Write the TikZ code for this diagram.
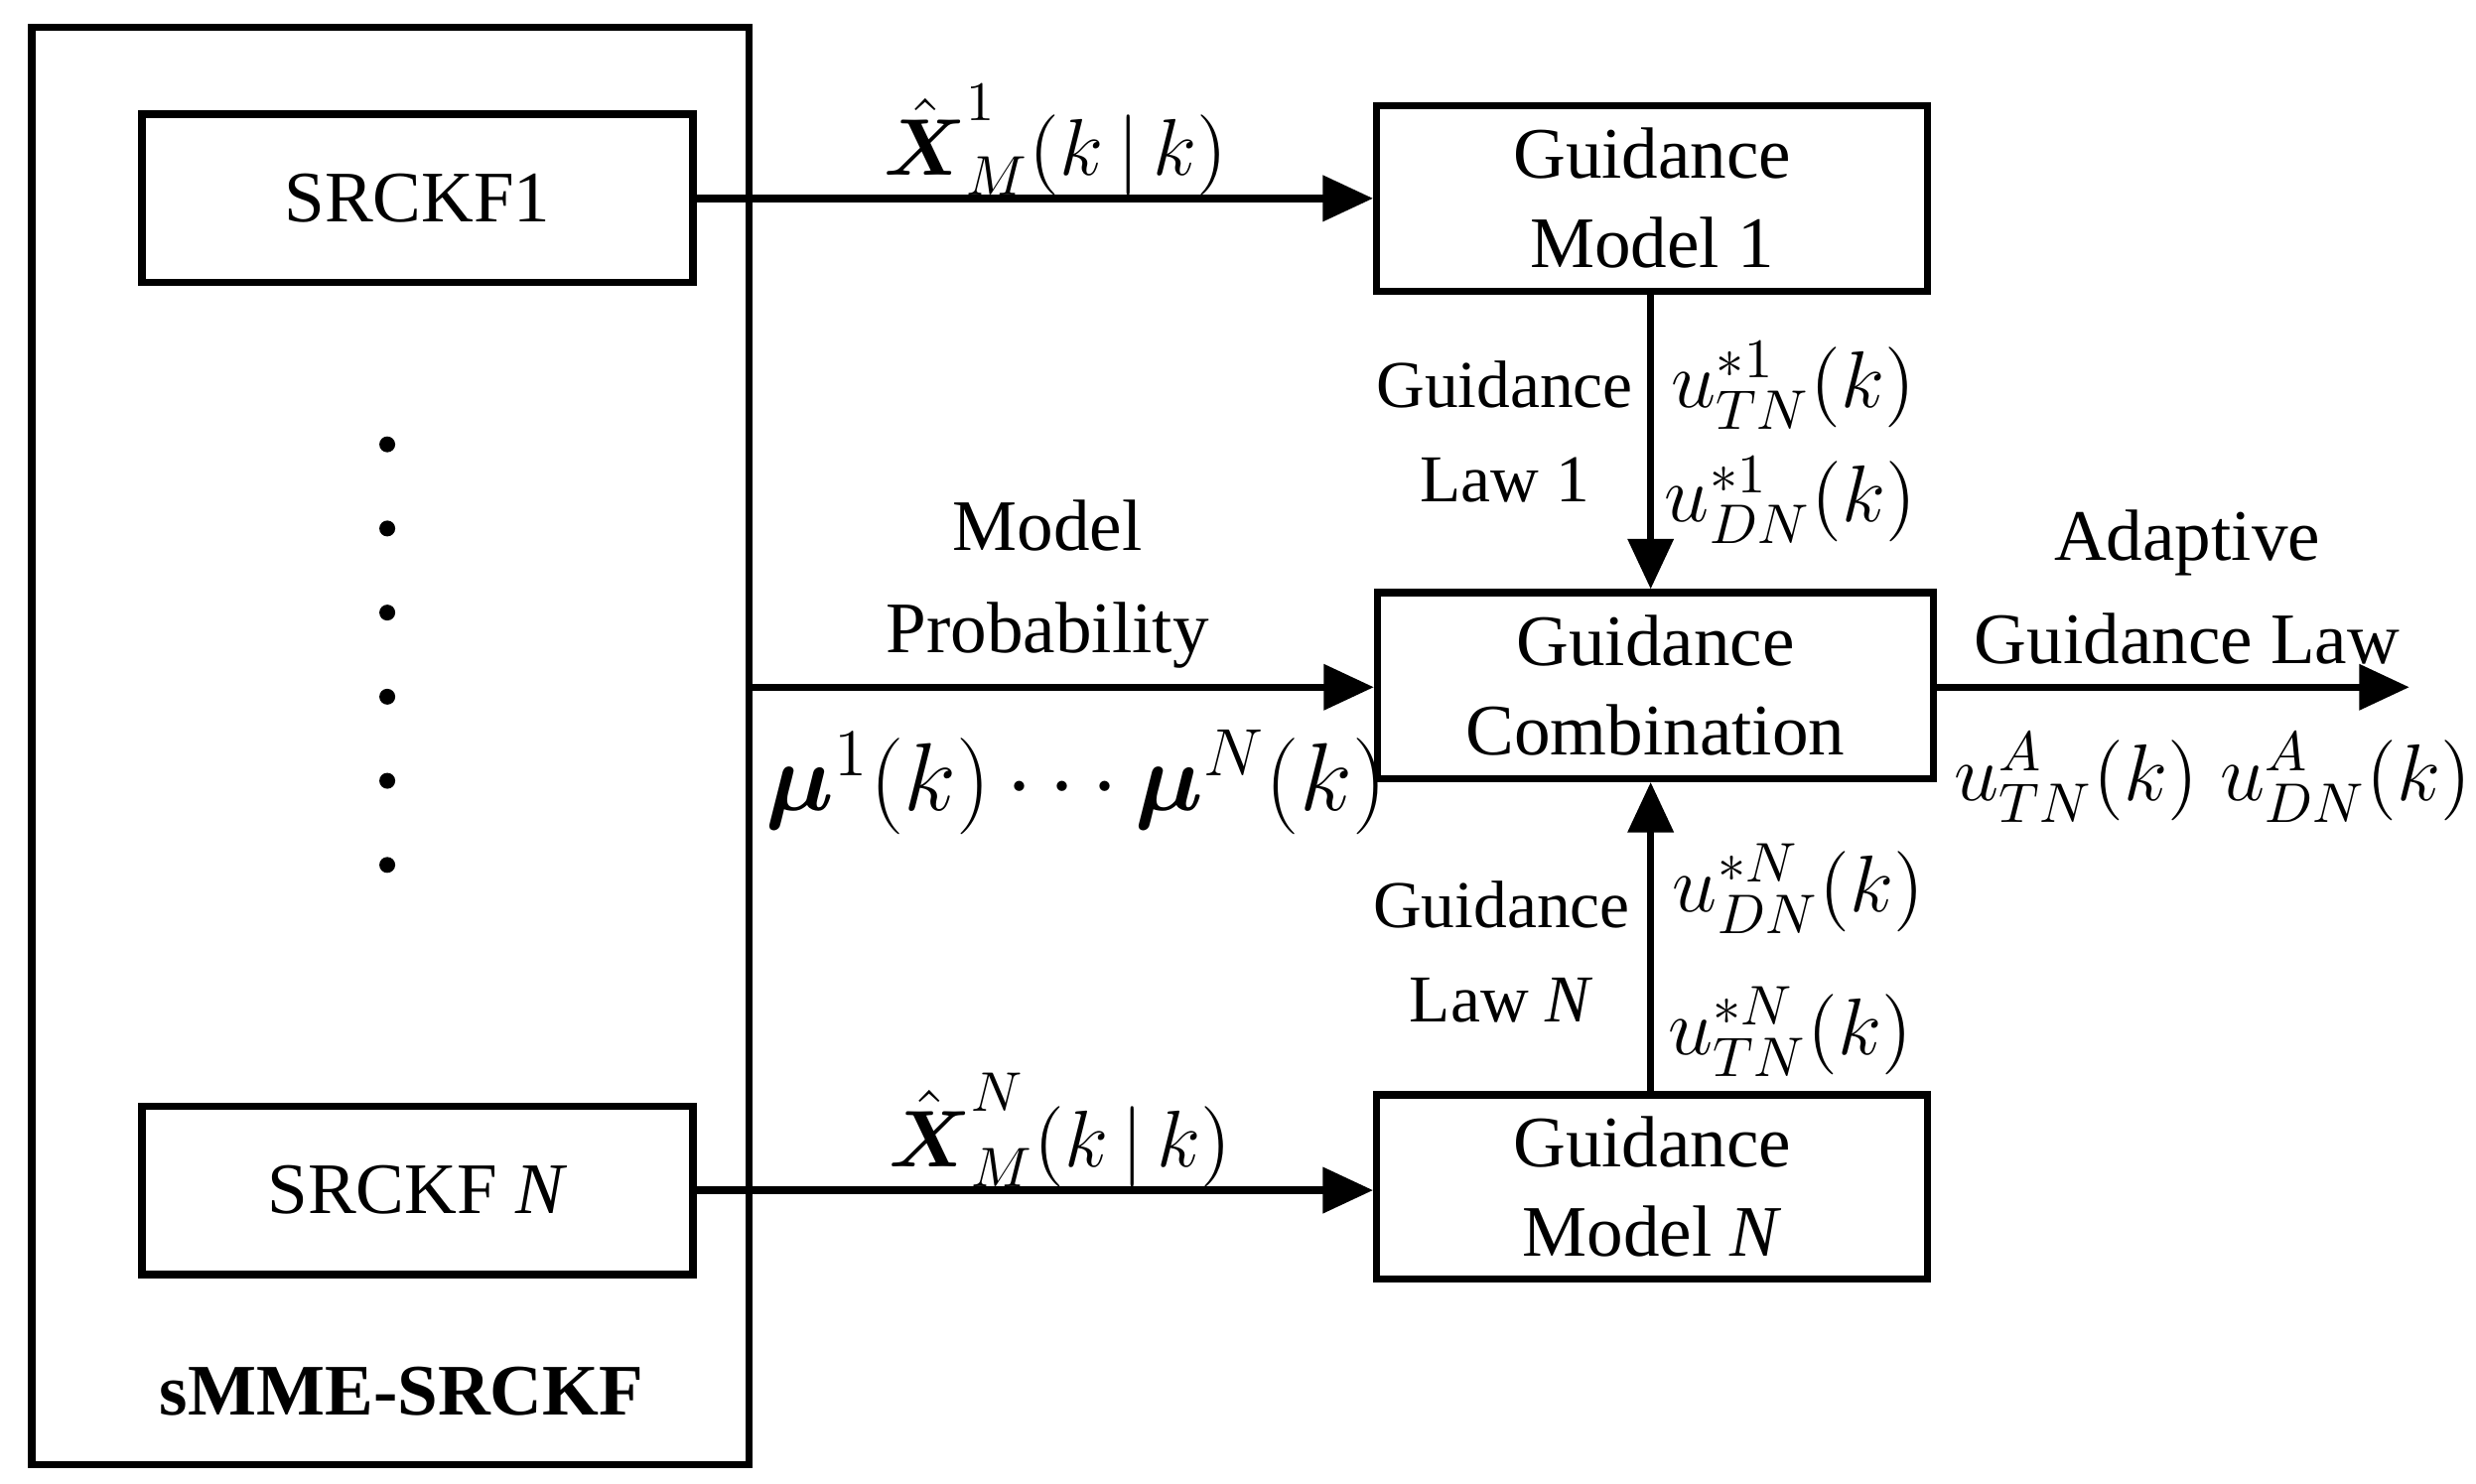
\documentclass[tikz,border=0pt]{standalone}
\usepackage{amsmath}
\usepackage{fontspec}
\setmainfont{Liberation Serif}
\usetikzlibrary{arrows.meta}
\tikzset{
  blk/.style={draw, line width=1.3pt, minimum width=3.47cm, minimum height=1.06cm, inner sep=0pt, align=center, font=\fontsize{13}{16}\selectfont},
  line/.style={line width=1.3pt, -{Triangle[length=9pt,width=8pt]}},
  lbl/.style={font=\fontsize{13}{15}\selectfont, inner sep=0pt, align=center},
  mth/.style={font=\fontsize{14}{16}\selectfont, inner sep=0pt}
}
\begin{document}
\begin{tikzpicture}[x=0.01cm,y=-0.01cm]
  \useasboundingbox (0,0) rectangle (1560,935);
	% left block
	\draw [line width=1.3pt] (20,17) rectangle (472,923);
	\node [blk] (f1) at (263,125) {SRCKF1};
	\node [blk] (fn) at (263,750) {SRCKF \textit{N}};
	\foreach \y in {280,333,386,439,492,545}
	  \fill (244,\y) circle (5);
	\node [lbl, font=\bfseries\fontsize{13}{15}\selectfont] (mme) at (253,877) {sMME-SRCKF};

	% guidance blocks
	\node [blk, minimum height=1.17cm] (g1) at (1041,125) {Guidance\\Model 1};
	\node [blk, minimum width=3.5cm, minimum height=1.17cm] (gc) at (1043,432) {Guidance\\Combination};
	\node [blk, minimum height=1.16cm] (gn) at (1041,748) {Guidance\\Model \textit{N}};
	\coordinate (mp) at (472,433);
	\coordinate (out) at (1518,433);

	% connectors
	\draw [line] (f1.east) -- (g1.west |- f1.east);
	\draw [line] (fn.east) -- (gn.west |- fn.east);
	\draw [line] (mp) -- (gc.west |- mp);
	\draw [line] (g1.south -| 1040,0) -- (gc.north -| 1040,0);
	\draw [line] (gn.north -| 1040,0) -- (gc.south -| 1040,0);
	\draw [line] (gc.east |- out) -- (out);

	% labels
	\node [mth] (x1) at (665,88) {$\hat{\boldsymbol{X}}^{1}_{M}(k\,|\,k)$};
	\node [mth] (xn) at (668,712) {$\hat{\boldsymbol{X}}^{N}_{M}(k\,|\,k)$};
	\node [lbl] (mpl) at (660,368) {Model\\[0.12cm]Probability};
	\node [mth, font=\fontsize{17}{19}\selectfont] (mu) at (678,493) {$\boldsymbol{\mu}^{1}(k)\cdots\boldsymbol{\mu}^{N}(k)$};
	\node [lbl, font=\fontsize{12}{14}\selectfont] (law1) at (948,272) {Guidance\\[0.1cm]Law 1};
	\node [lbl, font=\fontsize{12}{14}\selectfont] (lawn) at (946,600) {Guidance\\[0.1cm]Law \textit{N}};
	\node [mth] (u1t) at (1130,243) {$u^{*1}_{TN}(k)$};
	\node [mth] (u1d) at (1128,315) {$u^{*1}_{DN}(k)$};
	\node [mth] (und) at (1133,560) {$u^{*N}_{DN}(k)$};
	\node [mth] (unt) at (1128,650) {$u^{*N}_{TN}(k)$};
	\node [lbl] (agl) at (1378,370) {Adaptive\\[0.12cm]Guidance Law};
	\node [mth] (uat) at (1308,490) {$u^{A}_{TN}(k)$};
	\node [mth] (uad) at (1478,490) {$u^{A}_{DN}(k)$};
\end{tikzpicture}
\end{document}
